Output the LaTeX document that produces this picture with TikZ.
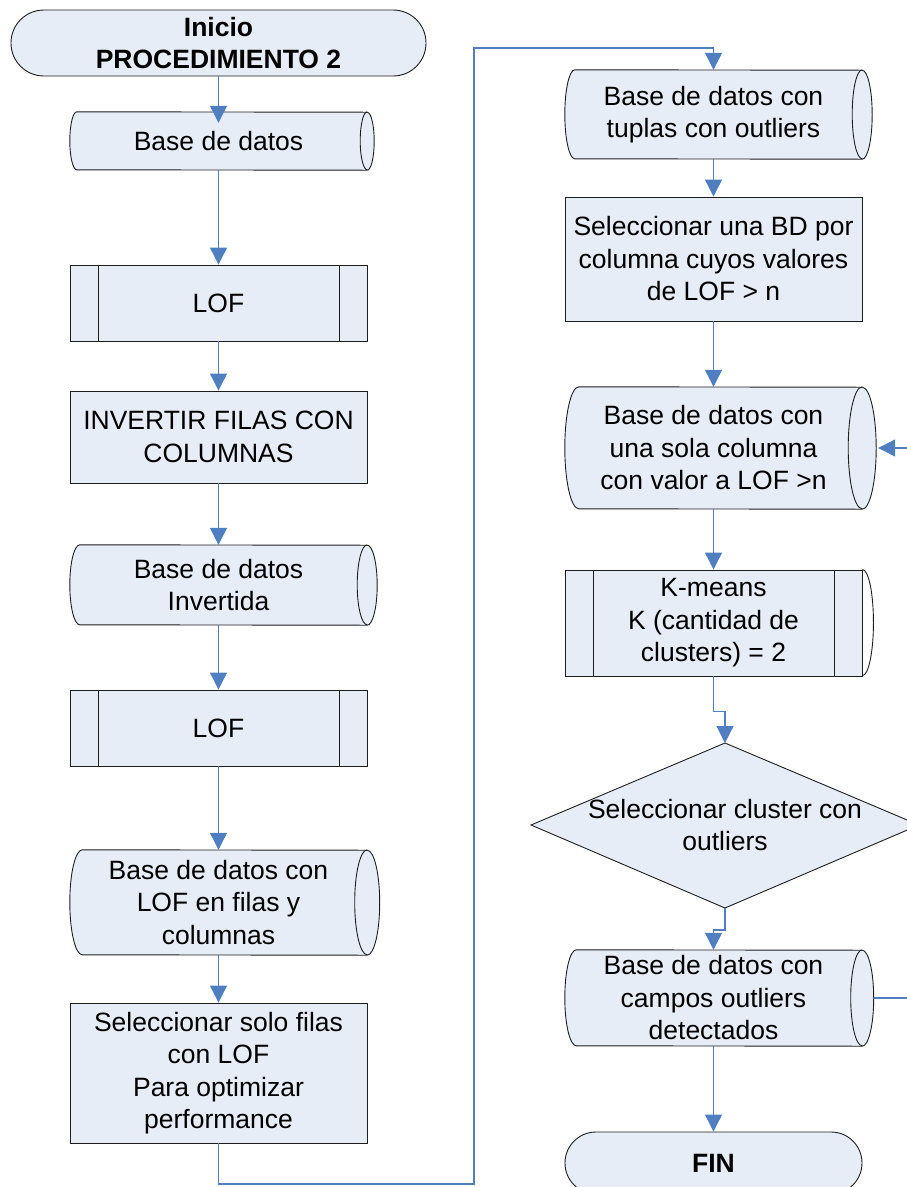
\documentclass[tikz,border=0pt]{standalone}
\usepackage{fontspec}
\setmainfont{Liberation Sans}
\usetikzlibrary{arrows.meta,backgrounds,calc}

\definecolor{shapefill}{RGB}{231,237,247}
\definecolor{flowblue}{RGB}{79,127,192}
\definecolor{edgegray}{RGB}{30,30,30}

\tikzset{
  txt/.style={font=\fontsize{26.5}{32.5}\selectfont, align=center, inner sep=0pt},
  procbox/.style={txt, rectangle, draw=edgegray, line width=0.9pt, fill=shapefill, minimum width=297pt},
  dbslot/.style={txt, rectangle, minimum width=297pt},
  termbox/.style={txt, rectangle, draw=edgegray, line width=0.9pt, fill=shapefill,
                  font=\fontsize{26.5}{32.5}\selectfont\bfseries},
  outline/.style={draw=edgegray, line width=0.9pt},
  flow/.style={draw=flowblue, line width=1.1pt, -{Triangle[width=17pt,length=17pt]}},
}

% stored-data outline around an invisible slot node: #1 name, #2 end depth, #3 half height
\newcommand\dbshape[3]{%
  \path[outline, fill=shapefill]
    ([xshift=#2]#1.north west) arc[start angle=90, end angle=270, x radius=#2, y radius=#3]
    -- (#1.south east) arc[start angle=-90, end angle=90, x radius=#2, y radius=#3] -- cycle;
  \draw[outline] (#1.north east) arc[start angle=90, end angle=270, x radius=#2, y radius=#3];}

% side bars of a predefined-process box
\newcommand\sidebars[1]{%
  \draw[outline] ([xshift=28.5pt]#1.north west) -- ([xshift=28.5pt]#1.south west);
  \draw[outline] ([xshift=-28.5pt]#1.north east) -- ([xshift=-28.5pt]#1.south east);}

\begin{document}
\begin{tikzpicture}[x=1pt,y=1pt]
\useasboundingbox (0,0) rectangle (907,-1187);

% ---------- left column ----------
\node[termbox, minimum width=415pt, minimum height=66pt, rounded corners=32.9pt]
  (start) at (218.5,-43) {Inicio\\PROCEDIMIENTO 2};
\node[dbslot, minimum height=58pt] (bd1) at (218.5,-141) {Base de datos};
\node[procbox, minimum height=76pt] (lof1) at (218.5,-303) {LOF};
\node[procbox, minimum height=92pt] (inv) at (218.5,-437) {INVERTIR FILAS CON\\COLUMNAS};
\node[dbslot, minimum height=80pt] (bdinv) at (218.5,-585) {Base de datos\\Invertida};
\node[procbox, minimum height=76pt] (lof2) at (218.5,-728) {LOF};
\node[dbslot, minimum height=105pt] (bdlof) at (218.5,-902.5) {Base de datos con\\LOF en filas y\\columnas};
\node[procbox, minimum height=140pt] (selfil) at (218.5,-1073)
  {Seleccionar solo filas\\con LOF\\Para optimizar\\performance};

% ---------- right column ----------
\node[dbslot, minimum height=89pt] (tup) at (713.5,-114.5) {Base de datos con\\tuplas con outliers};
\node[procbox, minimum height=124pt] (selbd) at (713.5,-259)
  {Seleccionar una BD por\\columna cuyos valores\\de LOF > n};
\node[dbslot, minimum height=122pt] (sola) at (713.5,-448)
  {Base de datos con\\una sola columna\\con valor a LOF >n};
\node[procbox, minimum height=106pt] (km) at (713.5,-623)
  {K-means\\K (cantidad de\\clusters) = 2};
\node[txt] (dec) at (725,-825) {Seleccionar cluster con\\outliers};
\coordinate (dectop) at (725,-743);
\coordinate (decbot) at (725,-908);
\coordinate (decleft) at (531,-825);
\coordinate (decright) at (919,-825);
\node[dbslot, minimum height=96pt] (campos) at (713.5,-998)
  {Base de datos con\\campos outliers\\detectados};
\node[termbox, minimum width=297pt, minimum height=62pt, rounded corners=30.9pt]
  (fin) at (713.5,-1163) {FIN};

% ---------- shape outlines behind the texts ----------
\begin{scope}[on background layer]
  \dbshape{bd1}{7pt}{29pt}
  \dbshape{bdinv}{10pt}{40pt}
  \dbshape{bdlof}{12.5pt}{52.5pt}
  \dbshape{tup}{10pt}{44.5pt}
  \dbshape{sola}{14pt}{61pt}
  \dbshape{campos}{11.5pt}{48pt}
  \path[outline, fill=shapefill] (dectop) -- (decright) -- (decbot) -- (decleft) -- cycle;
\end{scope}

\sidebars{lof1}
\sidebars{lof2}
\sidebars{km}
\draw[outline] (km.north east) arc[start angle=90, end angle=-90, x radius=11pt, y radius=53pt];

% ---------- connectors ----------
\draw[flow] (start.south) -- ([yshift=-11pt]bd1.north);
\draw[flow] (bd1.south) -- (lof1.north);
\draw[flow] (lof1.south) -- (inv.north);
\draw[flow] (inv.south) -- (bdinv.north);
\draw[flow] (bdinv.south) -- (lof2.north);
\draw[flow] (lof2.south) -- (bdlof.north);
\draw[flow] (bdlof.south) -- (selfil.north);

\coordinate (jbot) at (474,-1184);
\coordinate (jtop) at (474,-48);
\draw[flow] (selfil.south) |- (jbot) -- (jtop) -| (tup.north);

\draw[flow] (tup.south) -- (selbd.north);
\draw[flow] (selbd.south) -- (sola.north);
\draw[flow] (sola.south) -- (km.north);
\draw[flow] (km.south) -- ++(0,-35) -| (dectop);
\draw[flow] (decbot) -- ++(0,-22) -| (campos.north);
\draw[flow] (campos.south) -- (fin.north);

% feedback loop runs along the right border
\coordinate (loopx) at (908,0);
\draw[flow] ([xshift=11.5pt]campos.east) -- (campos.east -| loopx)
  -- (sola.east -| loopx) -- ([xshift=16pt]sola.east);
\end{tikzpicture}
\end{document}
